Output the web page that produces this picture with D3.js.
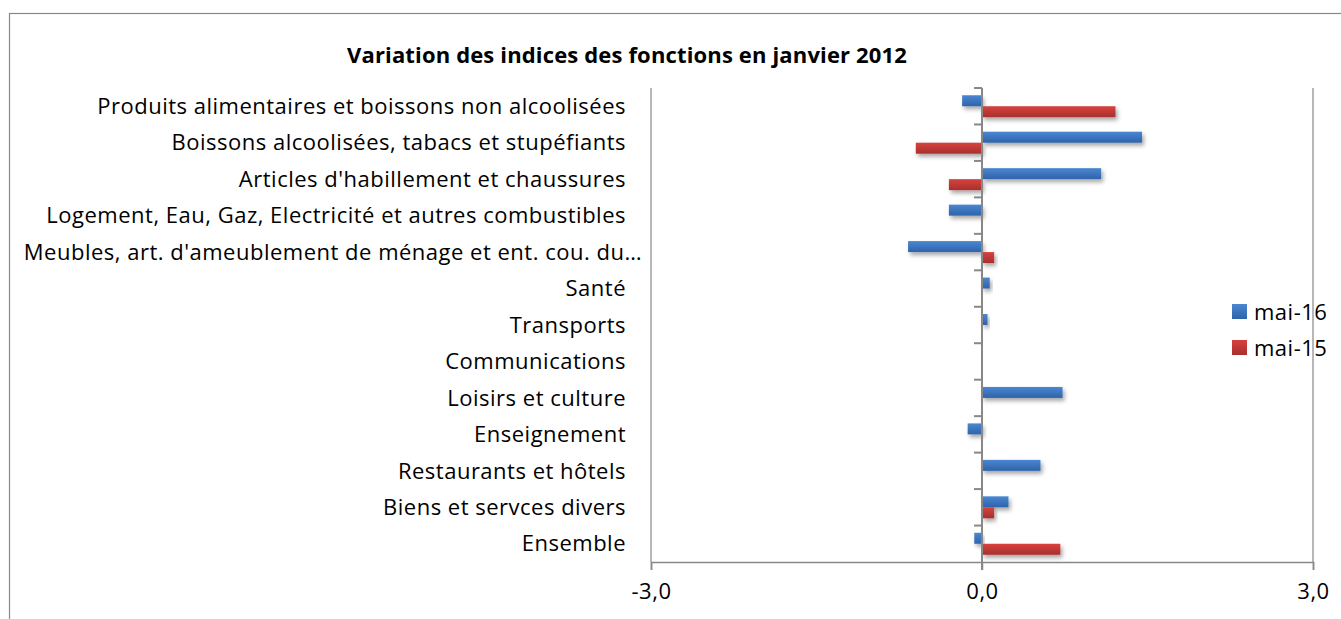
<!DOCTYPE html>
<html>
<head>
<meta charset="utf-8">
<script src="https://cdn.jsdelivr.net/npm/d3@7"></script>
<style>
  body { margin: 0; background: #fff; }
  text { font-family: "Open Sans", "Noto Sans", sans-serif; fill: #000; }
</style>
</head>
<body>
<svg id="chart"></svg>
<script>
const categories = [
    "Produits alimentaires et boissons non alcoolisées",
    "Boissons alcoolisées, tabacs et stupéfiants",
    "Articles d'habillement et chaussures",
    "Logement, Eau, Gaz, Electricité et autres combustibles",
    "Meubles, art. d'ameublement de ménage et ent. cou. du…",
    "Santé",
    "Transports",
    "Communications",
    "Loisirs et culture",
    "Enseignement ",
    "Restaurants et hôtels",
    "Biens et servces divers",
    "Ensemble"
];
const seriesNames = ["mai-16", "mai-15"];
const mai16 = [-0.18, 1.45, 1.08, -0.30, -0.67, 0.07, 0.05, 0, 0.73, -0.13, 0.53, 0.24, -0.07];
const mai15 = [1.21, -0.60, -0.30, 0, 0.11, 0, 0, 0, 0, 0, 0, 0.11, 0.71];
const xTicks = [-3, 0, 3];

const W = 1341, H = 619;
const margin = { top: 88, right: 28, bottom: 57, left: 651 };

const svg = d3.select("#chart").attr("width", W).attr("height", H);

// outer chart border
svg.append("rect")
    .attr("x", 9.5).attr("y", 13.5)
    .attr("width", W + 20).attr("height", H + 20)
    .attr("fill", "none").attr("stroke", "#888").attr("stroke-width", 1.2);

const defs = svg.append("defs");
const gradColors = { "mai-16": ["#4a87d2", "#2f63a9"], "mai-15": ["#d8423e", "#a7302d"] };
seriesNames.forEach((s, i) => {
    const g = defs.append("linearGradient").attr("id", "grad" + i)
        .attr("x1", 0).attr("y1", 0).attr("x2", 0).attr("y2", 1);
    g.append("stop").attr("offset", "0%").attr("stop-color", gradColors[s][0]);
    g.append("stop").attr("offset", "100%").attr("stop-color", gradColors[s][1]);
});
const shadow = defs.append("filter").attr("id", "shadow")
    .attr("x", "-20%").attr("y", "-50%").attr("width", "150%").attr("height", "250%");
shadow.append("feDropShadow")
    .attr("dx", 2).attr("dy", 3).attr("stdDeviation", 2)
    .attr("flood-color", "#000").attr("flood-opacity", 0.35);

const x = d3.scaleLinear().domain([-3, 3]).range([margin.left, W - margin.right]);
const y0 = d3.scaleBand().domain(categories).range([margin.top, H - margin.bottom]);
const y1 = d3.scaleBand().domain(seriesNames).range([0, y0.bandwidth()]).paddingOuter(0.66);

// title
svg.append("text")
    .attr("x", 627).attr("y", 63)
    .attr("text-anchor", "middle")
    .style("font-size", "22px").style("font-weight", "bold")
    .style("letter-spacing", "0.15px")
    .text("Variation des indices des fonctions en janvier 2012");

// vertical gridlines
svg.append("g").selectAll("line")
    .data(xTicks.filter(d => d !== 0))
    .join("line")
    .attr("x1", d => x(d)).attr("x2", d => x(d))
    .attr("y1", margin.top).attr("y2", H - margin.bottom)
    .attr("stroke", "#888").attr("stroke-width", 1.2);

// bottom axis
const xAxis = svg.append("g")
    .attr("transform", `translate(0,${H - margin.bottom})`)
    .call(d3.axisBottom(x).tickValues(xTicks).tickSize(8).tickPadding(13)
        .tickFormat(d => d3.format(".1f")(d).replace("−", "-").replace(".", ",")));
xAxis.select(".domain").attr("stroke", "#888").attr("stroke-width", 1.5);
xAxis.selectAll(".tick line").attr("stroke", "#888").attr("stroke-width", 1.5);
xAxis.selectAll(".tick text").style("font-size", "22px").attr("fill", "#000")
    .style("letter-spacing", "0.5px")
    .style("font-family", "'Open Sans', sans-serif");

// bars
const data = categories.map((c, i) => ({ cat: c, vals: [mai16[i], mai15[i]] }));
const groups = svg.append("g").selectAll("g")
    .data(data)
    .join("g")
    .attr("transform", d => `translate(0,${y0(d.cat)})`);
groups.selectAll("rect")
    .data(d => d.vals.map((v, i) => ({ s: seriesNames[i], v, i })))
    .join("rect")
    .filter(d => d.v !== 0)
    .attr("x", d => x(Math.min(0, d.v)))
    .attr("width", d => Math.abs(x(d.v) - x(0)))
    .attr("y", d => y1(d.s))
    .attr("height", y1.bandwidth())
    .attr("fill", d => `url(#grad${d.i})`)
    .attr("filter", "url(#shadow)");

// zero axis with category ticks
const yAxis = svg.append("g")
    .attr("transform", `translate(${x(0)},0)`);
yAxis.append("line")
    .attr("y1", margin.top).attr("y2", H - margin.bottom + 8)
    .attr("stroke", "#888").attr("stroke-width", 2);
yAxis.selectAll(".ctick")
    .data(categories)
    .join("line")
    .attr("class", "ctick")
    .attr("x1", -8).attr("x2", 0)
    .attr("y1", d => y0(d)).attr("y2", d => y0(d))
    .attr("stroke", "#888").attr("stroke-width", 2);

// category labels (the truncated one overhangs like in the original)
svg.append("g").selectAll("text")
    .data(categories)
    .join("text")
    .attr("x", d => d.endsWith("…") ? 642 : 626)
    .attr("y", d => y0(d) + y0.bandwidth() / 2)
    .attr("dy", "0.35em")
    .attr("text-anchor", "end")
    .style("font-size", "22px")
    .style("letter-spacing", "0.5px")
    .text(d => d);

// legend
const legend = svg.append("g").selectAll("g")
    .data(seriesNames)
    .join("g")
    .attr("transform", (d, i) => `translate(1232,${304 + i * 36})`);
legend.append("rect")
    .attr("width", 15).attr("height", 15)
    .attr("fill", (d, i) => `url(#grad${i})`);
legend.append("text")
    .attr("x", 22).attr("y", 8).attr("dy", "0.36em")
    .style("font-size", "22px")
    .style("letter-spacing", "0.5px")
    .text(d => d);
</script>
</body>
</html>
